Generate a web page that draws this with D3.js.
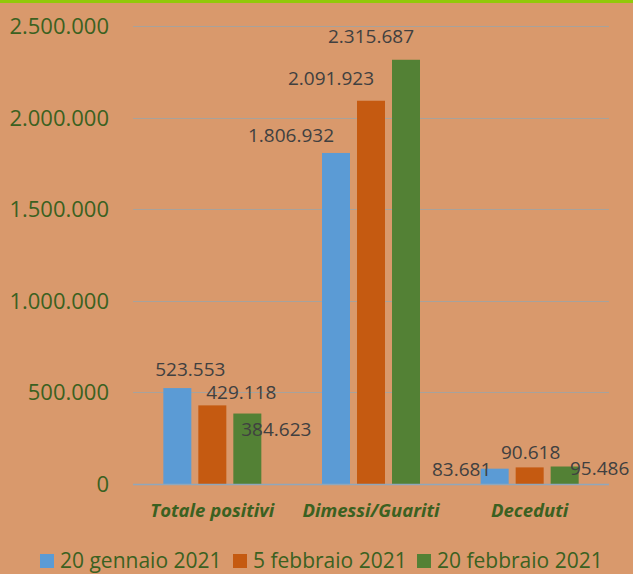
<!DOCTYPE html>
<html>
<head>
<meta charset="utf-8">
<script src="https://cdn.jsdelivr.net/npm/d3@7"></script>
<style>
  body { margin: 0; background: #D9996C; }
  svg { display: block; font-family: "Open Sans", sans-serif; }
</style>
</head>
<body>
<script>
// chart data
const categories = ["Totale positivi", "Dimessi/Guariti", "Deceduti"];
const series = ["20 gennaio 2021", "5 febbraio 2021", "20 febbraio 2021"];
const gennaio20 = [523553, 1806932, 83681];
const febbraio5 = [429118, 2091923, 90618];
const febbraio20 = [384623, 2315687, 95486];
const yTicks = [0, 500000, 1000000, 1500000, 2000000, 2500000];

const colors = ["#5B9BD5", "#C55A11", "#538135"];

// hand-placed data labels in the original, nudges relative to bar top centre
const labelNudge = [
  [[13, -19], [29, -13], [29, 16]],
  [[-45, -18], [-40, -23], [-35, -24]],
  [[-33, 0], [1, -15], [35, 2]]
];

const W = 633, H = 574;
const dims = { l: 133, r: 609, t: 26, b: 484 };

const svg = d3.select("body").append("svg")
  .attr("width", W).attr("height", H);

svg.append("rect").attr("width", W).attr("height", H).attr("fill", "#D9996C");
svg.append("rect").attr("width", W).attr("height", 3).attr("fill", "#92C90A");

const values = [gennaio20, febbraio5, febbraio20];
const fmt = v => d3.format(",")(v).replace(/,/g, ".");

const y = d3.scaleLinear().domain([0, 2500000]).range([dims.b, dims.t]);
const x0 = d3.scaleBand().domain(categories).range([dims.l, dims.r]);
const x1 = d3.scaleBand().domain(series).range([0, 98]).paddingInner(0.2);
const groupOff = (x0.bandwidth() - 98) / 2;

// gridlines
svg.append("g").selectAll("line")
  .data(yTicks.filter(d => d > 0))
  .enter().append("line")
  .attr("x1", dims.l).attr("x2", dims.r)
  .attr("y1", d => Math.round(y(d)) + 0.5).attr("y2", d => Math.round(y(d)) + 0.5)
  .attr("stroke", "#A8A29B").attr("stroke-width", 1.2);

// tick labels
svg.append("g").selectAll("text")
  .data(yTicks)
  .enter().append("text")
  .attr("x", 109).attr("y", d => y(d))
  .attr("dy", "0.36em")
  .attr("text-anchor", "end")
  .attr("fill", "#3B6121")
  .attr("font-size", 22)
  .text(fmt);

// bars
const bars = [];
categories.forEach((c, ci) => {
  series.forEach((s, si) => {
    bars.push({ c, s, ci, si, v: values[si][ci] });
  });
});

svg.append("g").selectAll("rect")
  .data(bars)
  .enter().append("rect")
  .attr("x", d => x0(d.c) + groupOff + x1(d.s))
  .attr("y", d => y(d.v))
  .attr("width", x1.bandwidth())
  .attr("height", d => y(0) - y(d.v))
  .attr("fill", d => colors[d.si]);

// zero axis line
svg.append("line")
  .attr("x1", dims.l).attr("x2", dims.r)
  .attr("y1", dims.b + 0.5).attr("y2", dims.b + 0.5)
  .attr("stroke", "#8FA7BC").attr("stroke-width", 1.5);

// data labels
svg.append("g").selectAll("text")
  .data(bars)
  .enter().append("text")
  .attr("x", d => x0(d.c) + groupOff + x1(d.s) + x1.bandwidth() / 2 + labelNudge[d.ci][d.si][0])
  .attr("y", d => y(d.v) + labelNudge[d.ci][d.si][1])
  .attr("dy", "0.36em")
  .attr("text-anchor", "middle")
  .attr("fill", "#404040")
  .attr("font-size", 19)
  .text(d => fmt(d.v));

// category labels
svg.append("g").selectAll("text")
  .data(categories)
  .enter().append("text")
  .attr("x", d => x0(d) + x0.bandwidth() / 2)
  .attr("y", 517)
  .attr("text-anchor", "middle")
  .attr("fill", "#3B6121")
  .attr("font-size", 18.5)
  .attr("font-weight", "bold")
  .attr("font-style", "italic")
  .text(d => d);

// legend
const legendX = [40, 233, 417];
const legend = svg.append("g").selectAll("g")
  .data(series)
  .enter().append("g")
  .attr("transform", (d, i) => `translate(${legendX[i]}, 554)`);

legend.append("rect")
  .attr("width", 14).attr("height", 14)
  .attr("fill", (d, i) => colors[i]);

legend.append("text")
  .attr("x", 20).attr("y", 14)
  .attr("fill", "#3B6121")
  .attr("font-size", 21)
  .text(d => d);
</script>
</body>
</html>
